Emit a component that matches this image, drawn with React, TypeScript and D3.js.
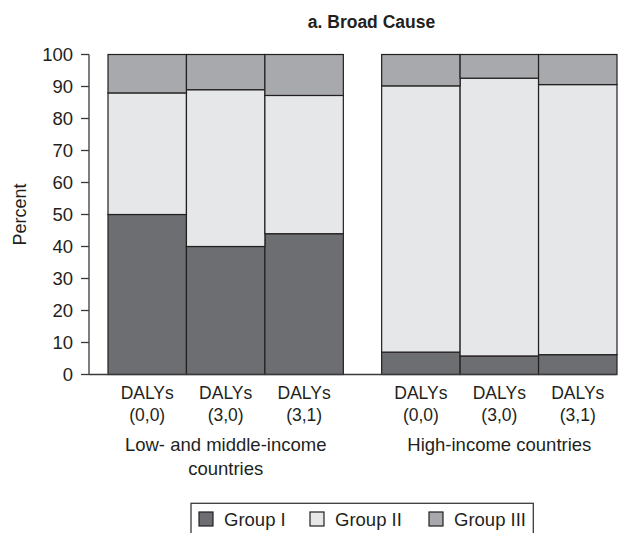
import React from "react";
import * as d3 from "d3";

const scenarios = ["(0,0)", "(3,0)", "(3,1)"];
const scenarioPrefix = "DALYs";
const regions = ["LMIC", "HIC"];
const regionLabels = [["Low- and middle-income", "countries"], ["High-income countries"]];
const seriesNames = ["Group I", "Group II", "Group III"];
const seriesColors = ["#6d6e71", "#e6e7e8", "#a7a9ac"];
// values per bar: LMIC (0,0),(3,0),(3,1), HIC (0,0),(3,0),(3,1)
const groupI = [50, 40, 44, 7.0, 5.8, 6.2];
const groupII = [38, 49, 43.2, 83.2, 86.8, 84.4];
const groupIII = [12, 11, 12.8, 9.8, 7.4, 9.4];
const yTicks = [0, 10, 20, 30, 40, 50, 60, 70, 80, 90, 100];
const title = "a. Broad Cause";
const yLabel = "Percent";

const W = 632;
const H = 533;

export default function App() {
  const y = d3.scaleLinear().domain([0, 100]).range([374.5, 54.5]);
  const outer = d3.scaleBand<string>().domain(regions).range([108, 617]).paddingInner(0.14).paddingOuter(0);
  const inner = d3.scaleBand<string>().domain(scenarios).range([0, outer.bandwidth()]).padding(0);

  const rows = regions.flatMap((r, ri) =>
    scenarios.map((s, si) => {
      const i = ri * scenarios.length + si;
      return { region: r, scenario: s, g1: groupI[i], g2: groupII[i], g3: groupIII[i] };
    })
  );
  const stack = d3.stack<any>().keys(["g1", "g2", "g3"]);
  const layers = stack(rows);

  const axisX = 89;
  const stroke = "#231f20";
  const font = "'Liberation Sans', Arial, sans-serif";
  const narrow = "'Liberation Sans Narrow', 'Liberation Sans', Arial, sans-serif";

  const legendX = [199, 310, 429];

  return (
    <svg width={W} height={H} style={{ position: "absolute", left: 0, top: 0, background: "#fff" }}>
      <text x={371.5} y={28.3} textAnchor="middle" fontFamily={font} fontWeight="bold" fontSize={17.5} fill="#231f20">
        {title}
      </text>

      {layers.map((layer, li) => (
        <g key={li}>
          {layer.map((d, di) => {
            const row = d.data;
            const x0 = (outer(row.region) as number) + (inner(row.scenario) as number);
            return (
              <rect
                key={di}
                x={x0}
                y={y(d[1])}
                width={inner.bandwidth()}
                height={y(d[0]) - y(d[1])}
                fill={seriesColors[li]}
                stroke={stroke}
                strokeWidth={1.2}
              />
            );
          })}
        </g>
      ))}

      {/* y axis */}
      <line x1={axisX} x2={axisX} y1={y(100)} y2={y(0)} stroke="#3a3a3c" strokeWidth={1.3} />
      <line x1={axisX} x2={617} y1={y(0)} y2={y(0)} stroke="#3a3a3c" strokeWidth={1.5} />
      {yTicks.map((t) => (
        <g key={t}>
          <line x1={81} x2={axisX} y1={y(t)} y2={y(t)} stroke="#3a3a3c" strokeWidth={1.3} />
          <text x={73} y={y(t)} dy="0.35em" textAnchor="end" fontFamily={narrow} fontSize={18.5} fill="#231f20">
            {t}
          </text>
        </g>
      ))}
      <text
        transform={`translate(26,214.5) rotate(-90)`}
        textAnchor="middle"
        fontFamily={font}
        fontSize={18}
        fill="#231f20"
      >
        {yLabel}
      </text>

      {/* category labels */}
      {rows.map((row, i) => {
        const cx = (outer(row.region) as number) + (inner(row.scenario) as number) + inner.bandwidth() / 2;
        return (
          <g key={i}>
            <text x={cx} y={398.7} textAnchor="middle" fontFamily={font} fontSize={17.5} fill="#231f20">
              {scenarioPrefix}
            </text>
            <text x={cx} y={421.3} textAnchor="middle" fontFamily={font} fontSize={17.5} fill="#231f20">
              {row.scenario}
            </text>
          </g>
        );
      })}
      {regions.map((r, ri) => {
        const cx = (outer(r) as number) + outer.bandwidth() / 2;
        return regionLabels[ri].map((line, li) => (
          <text key={r + li} x={cx} y={450.7 + li * 24} textAnchor="middle" fontFamily={font} fontSize={18.5} fill="#231f20">
            {line}
          </text>
        ));
      })}

      {/* legend */}
      <rect x={191} y={503.3} width={342.3} height={40} fill="none" stroke="#3a3a3c" strokeWidth={1.3} />
      {seriesNames.map((n, i) => (
        <g key={n}>
          <rect x={legendX[i]} y={512} width={14} height={14} fill={seriesColors[i]} stroke={stroke} strokeWidth={1.2} />
          <text x={legendX[i] + 25} y={525.7} fontFamily={font} fontSize={18.5} fill="#231f20">
            {n}
          </text>
        </g>
      ))}
    </svg>
  );
}
